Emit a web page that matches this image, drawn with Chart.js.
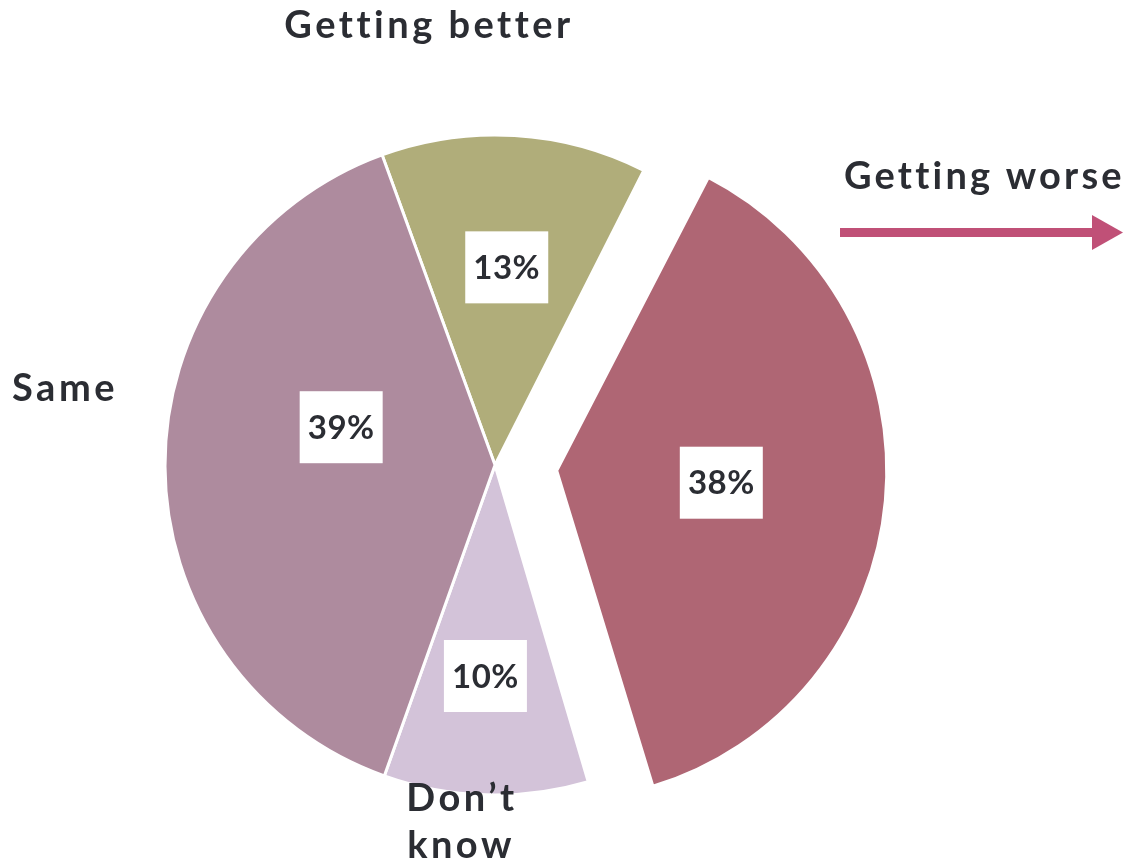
<!DOCTYPE html>
<html>
<head>
<meta charset="utf-8">
<script src="https://cdn.jsdelivr.net/npm/chart.js@4.4.1/dist/chart.umd.min.js"></script>
<style>
  html, body { margin: 0; padding: 0; background: #ffffff; }
  #wrap { width: 1123px; height: 868px; position: relative; }
</style>
</head>
<body>
<div id="wrap"><canvas id="pie" width="1123" height="868"></canvas></div>
<script>
// Survey answers, in drawing order (clockwise from the top)
const categories = ['Getting better', 'Getting worse', "Don\u2019t know", 'Same'];
const shares = [13, 38, 10, 39];
const sliceColors = ['#b0ad7a', '#af6674', '#d3c3d9', '#ae8b9e'];
const sliceOffsets = [0, 248, 0, 0];
// Percentage badge placement: fraction of radius, angle nudge (deg)
const badgeRadius = [0.6, 0.5, 0.64, 0.48];
const badgeAngleShift = [0, -1, 1, 14];

const TEXT = '#2b2d33';
const FONT = '"Lato", "Open Sans", sans-serif';
const PIE_RADIUS = 330;

// Translation the arc element applies when drawing an offset slice
function arcShift(arc) {
  const p = arc.getProps(['startAngle', 'endAngle'], true);
  const d = (arc.options.offset || 0) / 4;
  const half = (p.startAngle + p.endAngle) / 2;
  return { dx: Math.cos(half) * d, dy: Math.sin(half) * d };
}

// Exploded slices are drawn with a slightly grown radius; keep them at the pie radius
const keepRadius = {
  id: 'keepRadius',
  afterDatasetsUpdate(chart) {
    chart.getDatasetMeta(0).data.forEach(arc => {
      const off = (arc.options.offset || 0) / 4;
      if (!off) return;
      const fix = 1 - Math.sin(Math.min(Math.PI, arc.circumference || 0));
      arc.outerRadius = PIE_RADIUS - off * fix;
    });
  }
};

const labelPlugin = {
  id: 'pieLabels',
  afterDatasetsDraw(chart) {
    const ctx = chart.ctx;
    const meta = chart.getDatasetMeta(0);
    ctx.save();
    ctx.textAlign = 'center';
    ctx.textBaseline = 'middle';
    meta.data.forEach((arc, i) => {
      const p = arc.getProps(['x', 'y', 'startAngle', 'endAngle'], true);
      const s = arcShift(arc);
      const mid = (p.startAngle + p.endAngle) / 2 + badgeAngleShift[i] * Math.PI / 180;
      const r = PIE_RADIUS * badgeRadius[i];
      const cx = p.x + s.dx + Math.cos(mid) * r;
      const cy = p.y + s.dy + Math.sin(mid) * r;
      ctx.fillStyle = '#ffffff';
      ctx.fillRect(cx - 41.5, cy - 36, 83, 72);
      ctx.fillStyle = TEXT;
      ctx.font = 'bold 33px ' + FONT;
      ctx.letterSpacing = '0.5px';
      ctx.fillText(shares[i] + '%', cx, cy + 1);
    });

    // Category names around the pie
    ctx.font = 'bold 38px ' + FONT;
    ctx.letterSpacing = '3.5px';
    ctx.fillStyle = TEXT;
    ctx.textAlign = 'center';
    ctx.fillText(categories[0], 429, 26);
    ctx.textAlign = 'left';
    ctx.letterSpacing = '3.2px';
    ctx.fillText(categories[1], 844, 177);
    ctx.letterSpacing = '3.5px';
    ctx.fillText(categories[3], 12, 389);
    ctx.textAlign = 'center';
    const dk = categories[2].split(' ');
    ctx.fillText(dk[0], 462, 799);
    ctx.fillText(dk[1], 461, 846);

    // Direction arrow under "Getting worse"
    ctx.fillStyle = '#c05077';
    ctx.fillRect(840, 228, 256, 9);
    ctx.beginPath();
    ctx.moveTo(1092, 215);
    ctx.lineTo(1123, 232.5);
    ctx.lineTo(1092, 250);
    ctx.closePath();
    ctx.fill();
    ctx.restore();
  }
};

new Chart(document.getElementById('pie'), {
  type: 'pie',
  data: {
    labels: categories,
    datasets: [{
      data: shares,
      backgroundColor: sliceColors,
      borderColor: '#ffffff',
      borderWidth: 3,
      offset: sliceOffsets
    }]
  },
  options: {
    responsive: false,
    animation: false,
    rotation: -20,
    radius: PIE_RADIUS,
    layout: { padding: { left: 0, right: 133, top: 100, bottom: 38 } },
    plugins: {
      legend: { display: false },
      tooltip: { enabled: false },
      title: { display: false }
    }
  },
  plugins: [keepRadius, labelPlugin]
});
</script>
</body>
</html>
